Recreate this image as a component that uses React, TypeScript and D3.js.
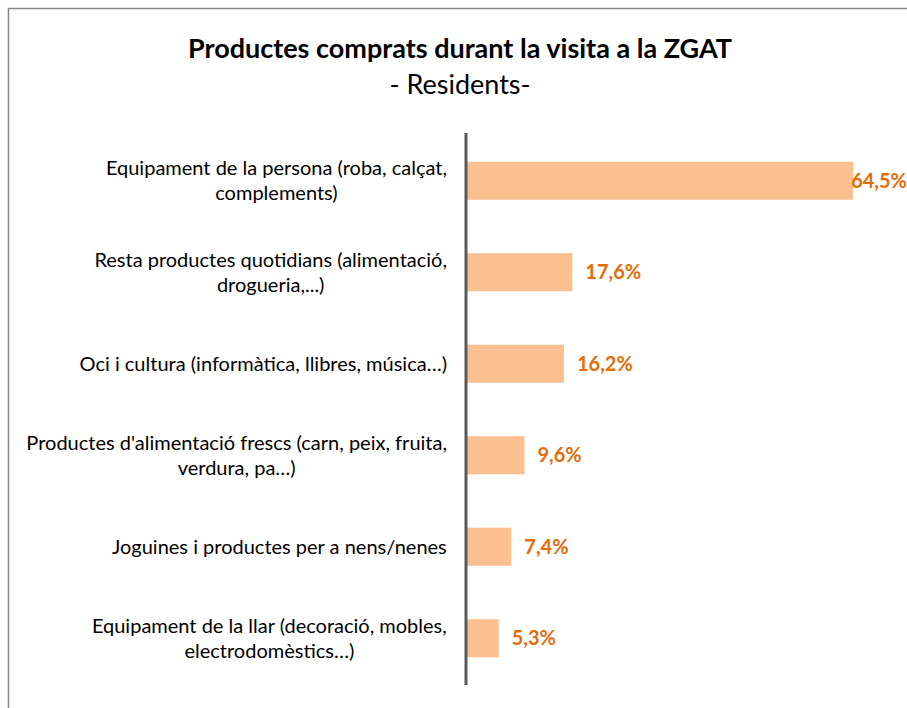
import React from "react";
import * as d3 from "d3";

const categories: string[][] = [
  ["Equipament de la persona (roba, calçat,", "complements)"],
  ["Resta productes quotidians (alimentació,", "drogueria,...)"],
  ["Oci i cultura (informàtica, llibres, música…)"],
  ["Productes d'alimentació frescs (carn, peix, fruita,", "verdura, pa…)"],
  ["Joguines i productes per a nens/nenes"],
  ["Equipament de la llar (decoració, mobles,", "electrodomèstics…)"],
];
const values: number[] = [64.5, 17.6, 16.2, 9.6, 7.4, 5.3];
const valueLabels: string[] = ["64,5%", "17,6%", "16,2%", "9,6%", "7,4%", "5,3%"];
const title = "Productes comprats durant la visita a la ZGAT";
const subtitle = "- Residents-";

const W = 907;
const H = 708;
const FONT = "Lato, 'Open Sans', sans-serif";
const CAT_SIZE = 20;
const VAL_SIZE = 20;

let ctx: CanvasRenderingContext2D | null = null;
function measure(text: string, font: string): number {
  if (!ctx) ctx = document.createElement("canvas").getContext("2d");
  if (!ctx) return text.length * 8;
  ctx.font = font;
  return ctx.measureText(text).width;
}

export default function App() {
  const x0 = 467;
  const x = d3.scaleLinear().domain([0, 64.5]).range([x0, 853]);
  const ids = categories.map((_, i) => String(i));
  const y = d3.scaleBand<string>().domain(ids).range([135, 684]).paddingInner(0.584).paddingOuter(0.292);
  const labelRight = 447;
  const lineH = 25;
  return (
    <svg width={W} height={H} style={{ position: "absolute", left: 0, top: 0, background: "#fff" }}>
      <rect x={8.5} y={8.5} width={W + 10} height={H + 10} fill="#fff" stroke="#898989" strokeWidth={1.5} />
      <text x={460} y={58} textAnchor="middle" fontFamily={FONT} fontWeight="bold" fontSize={27} fill="#000">
        {title}
      </text>
      <text x={460} y={94} textAnchor="middle" fontFamily={FONT} fontSize={27} fill="#000">
        {subtitle}
      </text>
      {values.map((v, i) => {
        const yy = y(String(i))!;
        const bw = y.bandwidth();
        const xe = x(v);
        const lblW = measure(valueLabels[i], `bold ${VAL_SIZE}px Lato`);
        const fits = xe + 13 + lblW <= W;
        return (
          <g key={i}>
            <rect x={x0} y={yy} width={xe - x0} height={bw} fill="#FAC090" />
            <text
              x={fits ? xe + 13 : W}
              y={yy + bw / 2}
              dy="0.35em"
              textAnchor={fits ? "start" : "end"}
              fontFamily={FONT}
              fontWeight="bold"
              fontSize={VAL_SIZE}
              fill="#E46C0A"
            >
              {valueLabels[i]}
            </text>
          </g>
        );
      })}
      {categories.map((lines, i) => {
        const cy = y(String(i))! + y.bandwidth() / 2;
        const n = lines.length;
        const maxW = Math.max(...lines.map((l) => measure(l, `${CAT_SIZE}px Lato`)));
        const cx = labelRight - maxW / 2;
        return (
          <text key={i} fontFamily={FONT} fontSize={CAT_SIZE} fill="#000">
            {lines.map((ln, j) => (
              <tspan key={j} x={cx} y={cy + (j - (n - 1) / 2) * lineH} dy="0.35em" textAnchor="middle">
                {ln}
              </tspan>
            ))}
          </text>
        );
      })}
      <line x1={x0 - 1} x2={x0 - 1} y1={133} y2={685} stroke="#595959" strokeWidth={3} />
    </svg>
  );
}
